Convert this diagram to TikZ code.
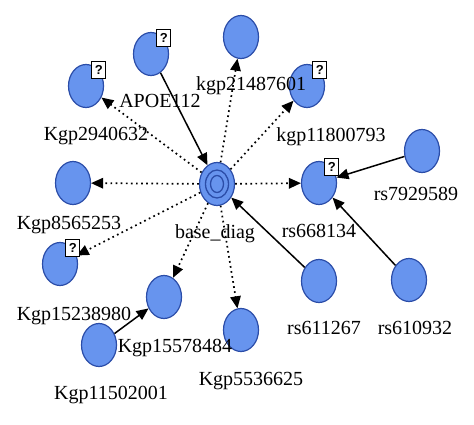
\documentclass[tikz,border=0pt]{standalone}
\usepackage{fontspec}
\setmainfont{Liberation Serif}
\setsansfont{Liberation Sans}
\usetikzlibrary{arrows.meta,shapes.geometric}
\definecolor{nodeblue}{HTML}{6794EE}
\definecolor{rimblue}{HTML}{2B4DA8}

\begin{document}
\begin{tikzpicture}[x=1pt,y=-1pt,
  >={Triangle[length=12pt,width=10.5pt]},
  gene/.style={ellipse,draw=rimblue,line width=1.2pt,fill=nodeblue,
    minimum width=35pt,minimum height=43pt,inner sep=0pt},
  qbox/.style={draw=black,fill=white,line width=1pt,inner sep=0pt,
    font=\sffamily\bfseries\fontsize{13}{13}\selectfont,minimum width=14pt,minimum height=17pt},
  lbl/.style={font=\fontsize{20}{23}\selectfont,inner sep=0pt,text height=13pt,text depth=4pt},
  dep/.style={->,line width=1.5pt},
  assoc/.style={->,line width=1.7pt,dash pattern=on 1.7pt off 3.4pt}]
  \useasboundingbox (0,0) rectangle (474,425);
  % hub
  \node[gene] (bd) at (217,184) {};
  \draw[rimblue,line width=1.3pt] (bd.center) ellipse [x radius=11.5,y radius=14]
    (bd.center) ellipse [x radius=6.5,y radius=8.5];
  % genes
  \node[gene] (apoe) at (151,54) {};
  \node[gene] (k294) at (86,86) {};
  \node[gene] (k856) at (73,183) {};
  \node[gene] (k2148) at (241,37) {};
  \node[gene] (k1180) at (307,86) {};
  \node[gene] (rs668) at (319,183) {};
  \node[gene] (rs792) at (422,151) {};
  \node[gene] (rs611) at (319,281) {};
  \node[gene] (rs610) at (409,280) {};
  \node[gene] (k553) at (241,330) {};
  \node[gene] (k1557) at (164,297) {};
  \node[gene] (k1150) at (99,345) {};
  \node[gene] (k1523) at (60,264) {};
  % labels
  \node[lbl] (l-apoe) at (160,103) {APOE112};
  \node[lbl] (l-k294) at (96,136) {Kgp2940632};
  \node[lbl] (l-k2148) at (251,86) {kgp21487601};
  \node[lbl] (l-k1180) at (331,137) {kgp11800793};
  \node[lbl] (l-rs792) at (416,196) {rs7929589};
  \node[lbl] (l-k856) at (69,225) {Kgp8565253};
  \node[lbl] (l-bd) at (215,234) {base\_diag};
  \node[lbl] (l-rs668) at (319,233) {rs668134};
  \node[lbl] (l-k1523) at (74,316) {Kgp15238980};
  \node[lbl] (l-k1557) at (175,348) {Kgp15578484};
  \node[lbl] (l-k1150) at (111,395) {Kgp11502001};
  \node[lbl] (l-k553) at (251,381) {Kgp5536625};
  \node[lbl] (l-rs611) at (324,330) {rs611267};
  \node[lbl] (l-rs610) at (415,330) {rs610932};
  % links
  \foreach \t in {k294,k856,k2148,k1180,rs668,k1523,k1557,k553}
    \draw[assoc] (bd) -- (\t);
  \draw[dep] (apoe) -- (bd);
  \draw[dep] (rs611) -- (bd);
  \draw[dep] (rs610) -- (rs668);
  \draw[dep] (rs792) -- (rs668);
  \draw[dep] (k1150) -- (k1557);
  % unknown markers
  \foreach \n in {apoe,k294,k1180,rs668,k1523}
    \node[qbox] (q-\n) at (\n.north east) {?};
\end{tikzpicture}
\end{document}
